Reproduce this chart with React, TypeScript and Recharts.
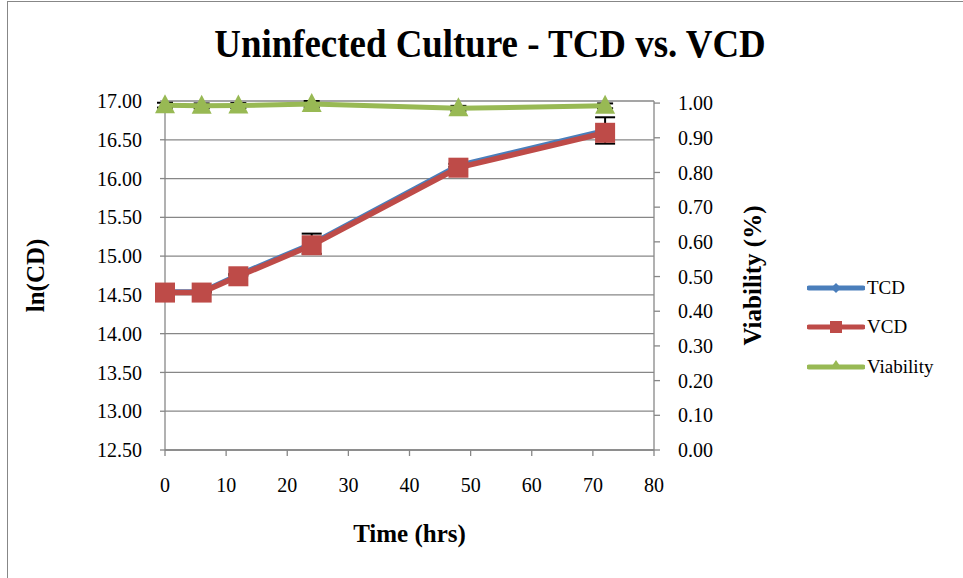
import { ComposedChart, Line, XAxis, YAxis, CartesianGrid, ErrorBar } from 'recharts'

const hours = [0, 6, 12, 24, 48, 72]
const tcd = [14.54, 14.54, 14.76, 15.16, 16.17, 16.62]
const tcdErr = [0.01, 0.01, 0.01, 0.13, 0.02, 0.17]
const vcd = [14.53, 14.53, 14.74, 15.14, 16.14, 16.59]
const viability = [0.994, 0.992, 0.993, 0.997, 0.985, 0.992]
const viabilityErr = [0.007, 0.007, 0.007, 0.009, 0.007, 0.007]

const xTicks = [0, 10, 20, 30, 40, 50, 60, 70, 80]
const leftTicks = [12.5, 13, 13.5, 14, 14.5, 15, 15.5, 16, 16.5, 17]
const rightTicks = [0, 0.1, 0.2, 0.3, 0.4, 0.5, 0.6, 0.7, 0.8, 0.9, 1]

const data = hours.map((h, i) => ({
  hours: h,
  tcd: tcd[i],
  tcdErr: tcdErr[i],
  vcd: vcd[i],
  viability: viability[i],
  viabilityErr: viabilityErr[i],
}))

const BLUE = '#4A7EBB'
const RED = '#BE4B48'
const GREEN = '#98B954'
const GRID = '#878787'
const FONT = '"Liberation Serif", "Times New Roman", serif'

const tickStyle = { fill: '#000', fontSize: 20, fontFamily: FONT }
const axisTitle = { fill: '#000', fontSize: 25, fontWeight: 700, fontFamily: FONT }

const Diamond = (p: any) => (
  <path key={`d-${p.index}`} d={`M${p.cx},${p.cy - 5}L${p.cx + 5},${p.cy}L${p.cx},${p.cy + 5}L${p.cx - 5},${p.cy}Z`} fill={BLUE} />
)
const Square = (p: any) => (
  <rect key={`s-${p.index}`} x={p.cx - 10} y={p.cy - 10} width={20} height={20} fill={RED} />
)
const Triangle = (p: any) => (
  <path key={`t-${p.index}`} d={`M${p.cx},${p.cy - 11}L${p.cx + 10},${p.cy + 8}L${p.cx - 10},${p.cy + 8}Z`} fill={GREEN} />
)

const legendItems = [
  { name: 'TCD', color: BLUE, shape: 'diamond' },
  { name: 'VCD', color: RED, shape: 'square' },
  { name: 'Viability', color: GREEN, shape: 'triangle' },
]

function LegendBox() {
  return (
    <div style={{ position: 'absolute', left: 807, top: 268, fontFamily: FONT, fontSize: 19 }}>
      {legendItems.map((it) => (
        <div key={it.name} style={{ display: 'flex', alignItems: 'center', height: 39.5 }}>
          <svg width={58} height={20}>
            <line x1={2} y1={10} x2={56} y2={10} stroke={it.color} strokeWidth={5} strokeLinecap="round" />
            {it.shape === 'diamond' && <path d="M29,5L34,10L29,15L24,10Z" fill={it.color} />}
            {it.shape === 'square' && <rect x={23} y={4} width={12} height={12} fill={it.color} />}
            {it.shape === 'triangle' && <path d="M29,3L35,12L23,12Z" fill={it.color} />}
          </svg>
          <span style={{ marginLeft: 2 }}>{it.name}</span>
        </div>
      ))}
    </div>
  )
}

export default function App() {
  return (
    <div style={{ position: 'absolute', left: 0, top: 0, width: 963, height: 578, background: '#fff', overflow: 'hidden' }}>
      <div style={{ position: 'absolute', left: 7, top: 1, width: 1000, height: 640, border: '1px solid #878787' }} />
      <div
        style={{
          position: 'absolute',
          left: 0,
          width: 980,
          top: 19,
          textAlign: 'center',
          fontFamily: FONT,
          fontWeight: 700,
          fontSize: 41,
          color: '#000',
          transform: 'scaleX(0.9)',
          transformOrigin: '490px 0',
        }}
      >
        Uninfected Culture - TCD vs. VCD
      </div>
      <div style={{ position: 'absolute', left: 0, top: 0 }}>
        <ComposedChart width={963} height={578} data={data} margin={{ top: 101, right: 169, bottom: 0, left: 0 }}>
          <CartesianGrid yAxisId="left" vertical={false} stroke={GRID} strokeWidth={1.3} />
          <XAxis
            dataKey="hours"
            type="number"
            domain={[0, 80]}
            ticks={xTicks}
            height={128}
            axisLine={{ stroke: GRID, strokeWidth: 1.3 }}
            tickLine={{ stroke: GRID, strokeWidth: 1.3 }}
            tickSize={6}
            tickMargin={22}
            tick={tickStyle}
            label={{ value: 'Time (hrs)', position: 'center', dy: 19, style: axisTitle }}
          />
          <YAxis
            yAxisId="left"
            domain={[12.5, 17]}
            ticks={leftTicks}
            width={165}
            allowDataOverflow
            tickFormatter={(v: number) => v.toFixed(2)}
            axisLine={{ stroke: GRID, strokeWidth: 1.3 }}
            tickLine={{ stroke: GRID, strokeWidth: 1.3 }}
            tickSize={5}
            tickMargin={18}
            tick={tickStyle}
            label={{ value: 'ln(CD)', angle: -90, position: 'center', dx: -47, style: axisTitle }}
          />
          <YAxis
            yAxisId="right"
            orientation="right"
            domain={[0, 1]}
            ticks={rightTicks}
            width={140}
            tickFormatter={(v: number) => v.toFixed(2)}
            axisLine={{ stroke: GRID, strokeWidth: 1.3 }}
            tickLine={{ stroke: GRID, strokeWidth: 1.3 }}
            tickSize={6}
            tickMargin={18}
            tick={tickStyle}
            label={{ value: 'Viability (%)', angle: -90, position: 'center', dx: 28, style: axisTitle }}
          />
          <Line
            yAxisId="left"
            dataKey="tcd"
            name="TCD"
            stroke={BLUE}
            strokeWidth={5}
            dot={Diamond}
            activeDot={false}
            isAnimationActive={false}
          >
            <ErrorBar dataKey="tcdErr" direction="y" width={10} stroke="#000" strokeWidth={2} />
          </Line>
          <Line
            yAxisId="left"
            dataKey="vcd"
            name="VCD"
            stroke={RED}
            strokeWidth={5.5}
            dot={Square}
            activeDot={false}
            isAnimationActive={false}
          />
          <Line
            yAxisId="right"
            dataKey="viability"
            name="Viability"
            stroke={GREEN}
            strokeWidth={5}
            dot={Triangle}
            activeDot={false}
            isAnimationActive={false}
          >
            <ErrorBar dataKey="viabilityErr" direction="y" width={8} stroke="#000" strokeWidth={2} />
          </Line>
        </ComposedChart>
      </div>
      <LegendBox />
    </div>
  )
}
